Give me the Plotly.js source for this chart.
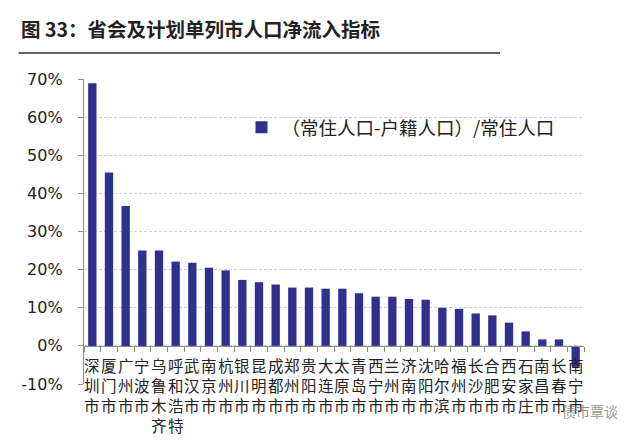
<!DOCTYPE html>
<html>
<head>
<meta charset="utf-8">
<script src="https://cdn.plot.ly/plotly-3.0.1.min.js"></script>
<style>html,body{margin:0;padding:0;background:#fff;}#chart{width:640px;height:444px;}</style>
</head>
<body>
<div id="chart"></div>
<script>
const chartTitle = '图 33：省会及计划单列市人口净流入指标';
const seriesName = '（常住人口-户籍人口）/常住人口';
const cities = ['深圳市','厦门市','广州市','宁波市','乌鲁木齐','呼和浩特','武汉市','南京市','杭州市','银川市',
  '昆明市','成都市','郑州市','贵阳市','大连市','太原市','青岛市','西宁市','兰州市','济南市',
  '沈阳市','哈尔滨','福州市','长沙市','合肥市','西安市','石家庄','南昌市','长春市','南宁市'];
const netInflow = [68.9,45.5,36.7,25.0,25.0,22.1,21.8,20.5,19.8,17.3,
  16.7,16.1,15.3,15.3,15.0,15.0,13.8,12.9,12.9,12.3,
  12.1,10.0,9.7,8.5,8.0,6.1,3.8,1.7,1.7,-5.5];
const yTicks = [-10,0,10,20,30,40,50,60,70];
const watermark = '债市覃谈';

const cjk = '"Noto Sans CJK SC", "Noto Sans", sans-serif';

const trace = {
  type: 'bar', x: cities, y: netInflow, name: seriesName,
  marker: {color: '#30308f'}, showlegend: true
};

const labelAnns = cities.map(c => ({
  x: c, y: 0, xref: 'x', yref: 'y', yanchor: 'top', xanchor: 'center',
  text: c.split('').join('<br>'), showarrow: false, yshift: -7, borderpad: 0,
  font: {family: cjk, size: 15.5, color: '#222'}
}));

const layout = {
  width: 640, height: 444,
  margin: {l: 83.5, r: 56, t: 79, b: 60},
  paper_bgcolor: '#fff', plot_bgcolor: '#fff',
  bargap: 0.5,
  xaxis: {
    type: 'category', range: [-0.5, 29.5], anchor: 'free', position: 0.125,
    showline: true, linecolor: '#8c8c8c', linewidth: 1.2,
    ticks: 'outside', tickson: 'boundaries', ticklen: 5, tickcolor: '#8c8c8c',
    showticklabels: false, showgrid: false, zeroline: false
  },
  yaxis: {
    range: [-10, 70], tickvals: yTicks, ticktext: yTicks.map(v => v + '%'),
    showgrid: true, gridcolor: '#cfcfcf', griddash: '3px,2px', gridwidth: 1,
    zeroline: false, showline: true, linecolor: '#8c8c8c', linewidth: 1.2,
    ticks: 'outside', ticklen: 5, tickcolor: '#8c8c8c', ticklabelstandoff: 12,
    tickfont: {family: '"DejaVu Sans", Verdana, sans-serif', size: 16, color: '#222'}
  },
  legend: {
    x: 0.315, xanchor: 'left', y: 0.84, yanchor: 'middle',
    bgcolor: 'rgba(0,0,0,0)', font: {family: cjk, size: 18.5, color: '#222'}
  },
  annotations: labelAnns.concat([
    {xref: 'paper', yref: 'paper', x: -0.13, y: 1.164, xanchor: 'left', yanchor: 'middle',
     text: '<b>' + chartTitle + '</b>', showarrow: false,
     font: {family: cjk, size: 19.5, color: '#222'}},
    {xref: 'paper', yref: 'paper', x: 1.012, y: -0.089, xanchor: 'center', yanchor: 'middle',
     text: watermark, showarrow: false, borderpad: 0,
     font: {family: cjk, size: 14, color: 'rgba(110,110,110,0.75)'}}
  ]),
  shapes: [
    {type: 'line', xref: 'paper', yref: 'paper', x0: -0.131, x1: 0.832, y0: 1.085, y1: 1.085,
     line: {color: '#333', width: 1.5}},
    {type: 'line', xref: 'paper', yref: 'y', x0: 0.003, x1: 1, y0: -10, y1: -10, layer: 'between',
     line: {color: '#fff', width: 3}}
  ]
};

Plotly.newPlot('chart', [trace], layout, {displayModeBar: false, staticPlot: true});
</script>
</body>
</html>
